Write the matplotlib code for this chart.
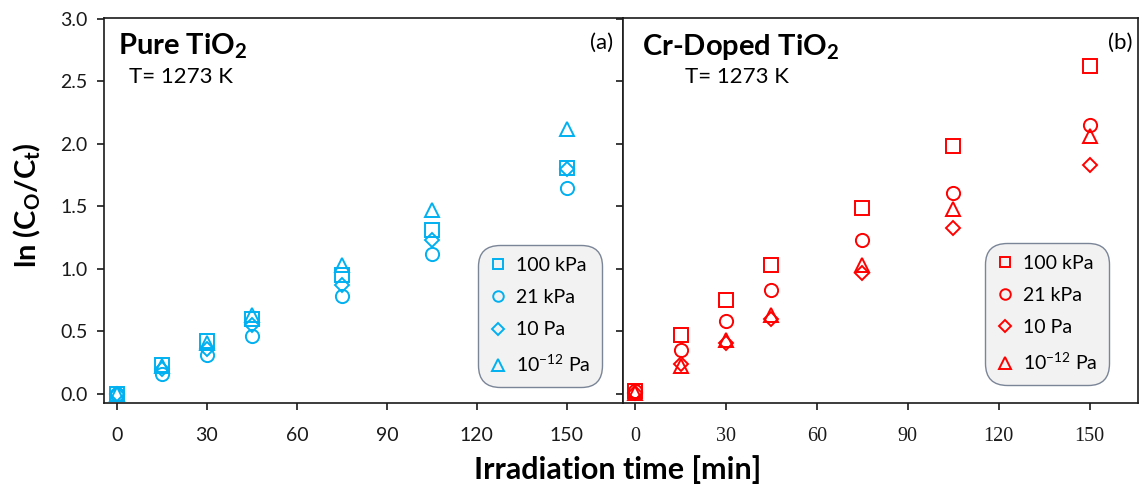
import matplotlib
matplotlib.use("Agg")
import matplotlib.pyplot as plt

plt.rcParams['font.family'] = ['Lato', 'DejaVu Sans']
plt.rcParams['mathtext.default'] = 'regular'

# Irradiation times (min)
times = [0, 15, 30, 45, 75, 105, 150]

# Pure TiO2, ln(C0/Ct)
pure_100kPa = [0.0, 0.23, 0.42, 0.60, 0.95, 1.31, 1.81]
pure_21kPa = [0.0, 0.16, 0.31, 0.46, 0.78, 1.12, 1.65]
pure_10Pa = [0.0, 0.20, 0.36, 0.55, 0.87, 1.23, 1.80]
pure_1e12Pa = [0.0, 0.22, 0.41, 0.63, 1.03, 1.47, 2.12]

# Cr-doped TiO2, ln(C0/Ct)
cr_100kPa = [0.02, 0.47, 0.755, 1.03, 1.49, 1.98, 2.62]
cr_21kPa = [0.02, 0.355, 0.58, 0.83, 1.23, 1.61, 2.15]
cr_10Pa = [0.01, 0.24, 0.41, 0.60, 0.965, 1.33, 1.83]
cr_1e12Pa = [0.01, 0.22, 0.43, 0.63, 1.03, 1.48, 2.06]

labels = ['100 kPa', '21 kPa', '10 Pa', r'10$^{-12}$ Pa']
markers = ['s', 'o', 'D', '^']
x_ticks = [0, 30, 60, 90, 120, 150]
y_ticks = [0.0, 0.5, 1.0, 1.5, 2.0, 2.5, 3.0]

blue = '#00B0F0'
red = '#FF0000'
ink = '#1a1a1a'

W, H = 1147, 487
fig = plt.figure(figsize=(W / 100, H / 100), dpi=100)
ax1 = fig.add_axes([104 / W, 1 - 403 / H, (623 - 104) / W, (403 - 18) / H])
ax2 = fig.add_axes([623 / W, 1 - 403 / H, (1138 - 623) / W, (403 - 18) / H])


def draw_panel(ax, series, color, xlim, anchor):
    for vals, lab, mk in zip(series, labels, markers):
        ms = {'s': 9.5, 'o': 9.5, 'D': 7.5, '^': 10}[mk]
        ax.plot(times, vals, linestyle='none', marker=mk, markersize=ms,
                markerfacecolor='none', markeredgecolor=color,
                markeredgewidth=1.4, label=lab)
    ax.set_xlim(*xlim)
    ax.set_ylim(-0.072, 3.005)
    ax.set_xticks(x_ticks)
    ax.set_yticks(y_ticks)
    for s in ax.spines.values():
        s.set_linewidth(1.2)
        s.set_color(ink)
    ax.tick_params(direction='out', length=5, width=1.2, color=ink,
                   labelsize=14, labelcolor=ink)
    ax.tick_params(axis='x', pad=12)
    ax.tick_params(axis='y', pad=7)
    leg = ax.legend(loc='lower right', bbox_to_anchor=anchor,
                    bbox_transform=ax.transAxes, borderaxespad=0,
                    fontsize=14, frameon=True, fancybox=True,
                    handletextpad=0.5, labelspacing=0.78, borderpad=0.42,
                    handlelength=0.8, markerscale=0.8)
    fr = leg.get_frame()
    fr.set_facecolor('#f2f2f2')
    fr.set_edgecolor('#7a8597')
    fr.set_linewidth(1.0)
    fr.set_alpha(1)
    fr.set_boxstyle('round,pad=0.2,rounding_size=1.1')


draw_panel(ax1, [pure_100kPa, pure_21kPa, pure_10Pa, pure_1e12Pa], blue,
           (-4.3, 168.7), (0.952, 0.052))
draw_panel(ax2, [cr_100kPa, cr_21kPa, cr_10Pa, cr_1e12Pa], red,
           (-4.0, 166.0), (0.936, 0.058))
ax2.tick_params(axis='y', labelleft=False)
for lab in ax2.get_xticklabels():
    lab.set_fontfamily('Liberation Serif')
    lab.set_fontsize(14.5)

ax1.text(0.027, 0.905, r'Pure TiO$_{2}$', transform=ax1.transAxes,
         fontsize=21, fontweight='bold', color='black', va='baseline')
ax1.text(0.048, 0.83, 'T= 1273 K', transform=ax1.transAxes,
         fontsize=16, color='black', va='baseline')
ax1.text(0.981, 0.935, '(a)', transform=ax1.transAxes,
         fontsize=16, color='black', ha='right', va='center')

ax2.text(0.036, 0.905, r'Cr-Doped TiO$_{2}$', transform=ax2.transAxes,
         fontsize=21, fontweight='bold', color='black', va='baseline')
ax2.text(0.12, 0.83, 'T= 1273 K', transform=ax2.transAxes,
         fontsize=16, color='black', va='baseline')
ax2.text(0.99, 0.935, '(b)', transform=ax2.transAxes,
         fontsize=16, color='black', ha='right', va='center')

fig.text(27 / W, 1 - 205 / H, r'ln (C$_{O}$/C$_{t}$)', rotation=90,
         fontsize=21, fontweight='bold', ha='center', va='center')
fig.text(618 / W, 1 - 470 / H, 'Irradiation time [min]',
         fontsize=22, fontweight='bold', ha='center', va='center')

fig.savefig('out.png', dpi=100)
